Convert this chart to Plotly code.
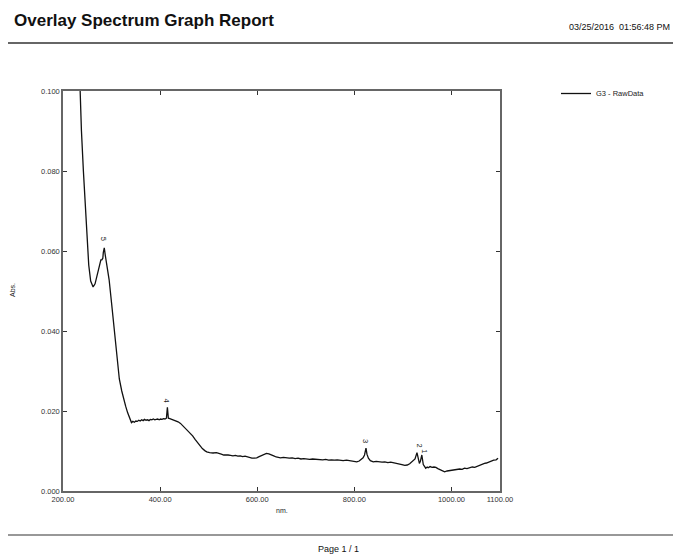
import plotly.graph_objects as go

# ---- data ----
wavelength = [230, 235, 238, 242, 245, 249, 253, 257, 262, 266, 270, 274, 278, 280, 282, 283, 285, 287, 290,
              295, 300, 305, 310, 316, 321, 325, 329, 333, 336, 338, 341, 344, 347, 350, 353, 356, 359, 362,
              365, 368, 371, 374, 377, 380, 383, 386, 389, 392, 395, 398, 401, 404, 407, 410, 413, 415, 417,
              420, 425, 430, 437, 442, 447, 452, 457, 462, 467, 472, 477, 482, 487, 492, 496, 502, 509, 516,
              521, 526, 531, 536, 540, 545, 550, 555, 560, 565, 570, 575, 580, 585, 589, 594, 599, 604, 609,
              614, 619, 624, 629, 634, 639, 643, 648, 654, 660, 666, 672, 678, 684, 690, 696, 702, 708, 714,
              720, 729, 735, 741, 747, 753, 759, 765, 771, 777, 784, 790, 796, 800, 805, 810, 814, 818, 821,
              824, 826, 829, 833, 839, 845, 851, 857, 863, 869, 875, 880, 886, 892, 898, 904, 909, 914, 918,
              922, 925, 929, 932, 934, 936, 939, 942, 945, 947, 950, 952, 956, 960, 964, 968, 972, 976, 981,
              986, 991, 997, 1002, 1007, 1012, 1017, 1022, 1027, 1032, 1038, 1043, 1048, 1053, 1058, 1063,
              1068, 1072, 1077, 1082, 1087, 1092, 1096, 1100]
absorbance = [0.120, 0.100, 0.090, 0.080, 0.0735, 0.0628, 0.0565, 0.0525, 0.0510, 0.0518, 0.0540, 0.0562,
              0.0578, 0.0578, 0.0582, 0.0596, 0.0608, 0.0590, 0.0565, 0.0528, 0.0470, 0.0410, 0.0345, 0.0280,
              0.0250, 0.0228, 0.0212, 0.0196, 0.0186, 0.0177, 0.0171, 0.0174, 0.0172, 0.0175, 0.0174, 0.0177,
              0.0175, 0.0178, 0.0176, 0.0179, 0.0177, 0.0178, 0.0176, 0.0179, 0.0178, 0.0180, 0.0178, 0.0179,
              0.0180, 0.0178, 0.0180, 0.0179, 0.0181, 0.0180, 0.0182, 0.0209, 0.0182, 0.0181, 0.0179, 0.0177,
              0.0173, 0.0169, 0.0163, 0.0156, 0.0151, 0.0146, 0.0138, 0.0129, 0.0121, 0.0113, 0.0106, 0.0101,
              0.0098, 0.0096, 0.0095, 0.0096, 0.0093, 0.0092, 0.0090, 0.0091, 0.0090, 0.0089, 0.0088, 0.0089,
              0.0087, 0.0088, 0.0086, 0.0087, 0.0085, 0.0084, 0.0082, 0.0082, 0.0083, 0.0086, 0.0089, 0.0092,
              0.0094, 0.0093, 0.0091, 0.0088, 0.0085, 0.0084, 0.0083, 0.0084, 0.0083, 0.0082, 0.0083, 0.0081,
              0.0082, 0.0080, 0.0081, 0.0080, 0.0079, 0.0080, 0.0079, 0.0079, 0.0078, 0.0079, 0.0077, 0.0078,
              0.0077, 0.0078, 0.0077, 0.0076, 0.0077, 0.0076, 0.0075, 0.0074, 0.0073, 0.0075, 0.0078, 0.0083,
              0.0090, 0.0107, 0.0092, 0.0082, 0.0076, 0.0073, 0.0074, 0.0073, 0.0072, 0.0073, 0.0071, 0.0072,
              0.0071, 0.0070, 0.0068, 0.0066, 0.0064, 0.0065, 0.0068, 0.0073, 0.0076, 0.0080, 0.0096, 0.0079,
              0.0069, 0.0074, 0.0090, 0.0066, 0.0060, 0.0057, 0.0060, 0.0058, 0.0061, 0.0059, 0.0060, 0.0059,
              0.0056, 0.0054, 0.0052, 0.0048, 0.0050, 0.0051, 0.0053, 0.0052, 0.0054, 0.0055, 0.0054, 0.0057,
              0.0056, 0.0058, 0.0060, 0.0059, 0.0062, 0.0063, 0.0066, 0.0069, 0.0070, 0.0073, 0.0074, 0.0077,
              0.0078, 0.0082]

peak_labels = ["5", "4", "3", "2", "1"]
peak_wavelength = [285, 415, 824, 934, 945]
peak_label_abs = [0.0630, 0.0225, 0.0125, 0.0113, 0.0100]

x_tickvals = [200, 400, 600, 800, 1000, 1100]
x_ticktext = ["200.00", "400.00", "600.00", "800.00", "1000.00", "1100.00"]
y_tickvals = [0.0, 0.02, 0.04, 0.06, 0.08, 0.10]
y_ticktext = ["0.000", "0.020", "0.040", "0.060", "0.080", "0.100"]

series_name = "G3 - RawData"
report_title = "Overlay Spectrum Graph Report"
report_date = "03/25/2016  01:56:48 PM"
page_text = "Page 1 / 1"

# ---- layout geometry ----
W, H = 673, 554
L, R, T, B = 63, 500, 91, 491


def px(x):
    return (x - L) / (R - L)


def py(y):
    return (B - y) / (B - T)


FONT = "Liberation Sans, Arial, sans-serif"

fig = go.Figure()
fig.add_trace(go.Scatter(
    x=wavelength, y=absorbance, mode="lines", name=series_name,
    line=dict(color="#111111", width=1.3), showlegend=True,
))

annotations = []
for lab, xw, ya in zip(peak_labels, peak_wavelength, peak_label_abs):
    annotations.append(dict(x=xw, y=ya, xref="x", yref="y", text=lab, showarrow=False,
                            textangle=90, font=dict(family=FONT, size=7.5, color="#222")))

annotations += [
    dict(x=px(12), y=py(20), xref="paper", yref="paper", text="<b>" + report_title + "</b>",
         showarrow=False, xanchor="left", yanchor="middle",
         font=dict(family=FONT, size=17, color="#111")),
    dict(x=px(672), y=py(27), xref="paper", yref="paper", text=report_date,
         showarrow=False, xanchor="right", yanchor="middle",
         font=dict(family=FONT, size=9, color="#111")),
    dict(x=px(338), y=py(549), xref="paper", yref="paper", text=page_text,
         showarrow=False, xanchor="center", yanchor="middle",
         font=dict(family=FONT, size=9, color="#111")),
    dict(x=px(282), y=py(510), xref="paper", yref="paper", text="nm.",
         showarrow=False, xanchor="center", yanchor="middle",
         font=dict(family=FONT, size=7, color="#222")),
    dict(x=px(12), y=py(290), xref="paper", yref="paper", text="Abs.",
         showarrow=False, xanchor="center", yanchor="middle", textangle=-90,
         font=dict(family=FONT, size=7, color="#222")),
]

shapes = [
    dict(type="line", xref="paper", yref="paper", x0=px(8), x1=px(673), y0=py(43), y1=py(43),
         line=dict(color="#333", width=1.5)),
    dict(type="line", xref="paper", yref="paper", x0=px(8), x1=px(673), y0=py(535), y1=py(535),
         line=dict(color="#333", width=1.2)),
]

axis_common = dict(showgrid=False, zeroline=False, showline=True, linecolor="#666", linewidth=1.5,
                   mirror="ticks", ticks="inside", ticklen=4, tickcolor="#333", tickwidth=1,
                   tickfont=dict(family=FONT, size=7.5, color="#333"))

fig.update_layout(
    width=W, height=H,
    margin=dict(l=L, r=W - R, t=T, b=H - B, pad=0),
    paper_bgcolor="white", plot_bgcolor="white",
    xaxis=dict(range=[200, 1100], tickvals=x_tickvals, ticktext=x_ticktext, **axis_common),
    yaxis=dict(range=[0, 0.1], tickvals=y_tickvals, ticktext=y_ticktext, **axis_common),
    legend=dict(x=px(556), y=py(79), xanchor="left", yanchor="top", bgcolor="rgba(0,0,0,0)",
                font=dict(family=FONT, size=7.5, color="#222"), itemwidth=30,
                tracegroupgap=0),
    annotations=annotations,
    shapes=shapes,
)

fig.write_html("out.html")
